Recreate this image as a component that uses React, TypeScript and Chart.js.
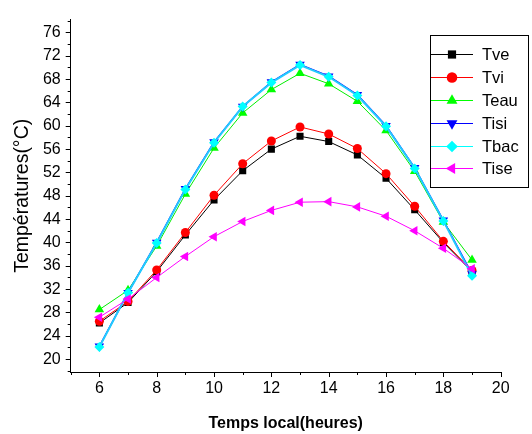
import React, { useEffect, useRef } from 'react';
import { Chart, registerables } from 'chart.js';
import { drawPoint } from 'chart.js/helpers';

Chart.register(...registerables);

const hours = [6, 7, 8, 9, 10, 11, 12, 13, 14, 15, 16, 17, 18, 19];
const tve = [26.2, 29.7, 35.0, 41.3, 47.3, 52.3, 56.0, 58.2, 57.3, 55.0, 51.0, 45.6, 40.0, 35.0];
const tvi = [26.5, 29.9, 35.3, 41.7, 48.1, 53.5, 57.4, 59.8, 58.6, 56.1, 51.8, 46.2, 40.2, 35.2];
const teau = [28.5, 31.8, 39.4, 48.3, 56.2, 62.2, 66.2, 69.0, 67.2, 64.2, 59.2, 52.2, 43.5, 37.0];
const tisi = [22.2, 31.4, 40.0, 49.2, 57.2, 63.3, 67.5, 70.5, 68.5, 65.3, 60.0, 52.8, 43.8, 34.6];
const tbac = [22.1, 31.4, 39.9, 49.1, 57.1, 63.3, 67.4, 70.4, 68.4, 65.2, 59.9, 52.7, 43.7, 34.3];
const tise = [27.2, 30.3, 34.0, 37.6, 41.0, 43.6, 45.5, 46.9, 47.0, 46.1, 44.5, 42.0, 39.0, 35.5];

const seriesNames = ['Tve', 'Tvi', 'Teau', 'Tisi', 'Tbac', 'Tise'];
const seriesValues = [tve, tvi, teau, tisi, tbac, tise];
const seriesColors = ['#000000', '#ff0000', '#00ff00', '#0000ff', '#00ffff', '#ff00ff'];
const seriesLineColors = ['#000000', '#ff0000', '#00ee00', '#0000ff', '#22ccff', '#ff00ff'];
const seriesMarkers = ['rect', 'circle', 'triangle', 'triangle', 'rectRot', 'triangle'];
const seriesRotations = [0, 0, 0, 180, 0, 270];
const seriesRadii = [5, 4.5, 5.5, 5.5, 5, 5.5];
const seriesLineWidths = [1, 1, 1, 1.5, 2, 1];

const xLabelValues = [6, 8, 10, 12, 14, 16, 18, 20];
const yLabelValues = [20, 24, 28, 32, 36, 40, 44, 48, 52, 56, 60, 64, 68, 72, 76];

const FONT = '"Liberation Sans", Arial, sans-serif';

const ticksPlugin = {
  id: 'originTicks',
  afterDraw(chart: any) {
    const ctx = chart.ctx;
    const xs = chart.scales.x;
    const ys = chart.scales.y;
    ctx.save();
    ctx.strokeStyle = '#000';
    ctx.lineWidth = 1;
    ctx.beginPath();
    for (let v = 5; v <= 20; v++) {
      const px = Math.round(xs.getPixelForValue(v)) + 0.5;
      const len = xLabelValues.includes(v) ? 5 : 3;
      ctx.moveTo(px, ys.bottom);
      ctx.lineTo(px, ys.bottom + len);
    }
    for (let v = 18; v <= 78; v += 2) {
      const py = Math.round(ys.getPixelForValue(v)) + 0.5;
      const len = yLabelValues.includes(v) ? 5 : 3;
      ctx.moveTo(xs.left - len, py);
      ctx.lineTo(xs.left, py);
    }
    ctx.stroke();
    ctx.restore();
  },
};

const legendPlugin = {
  id: 'boxLegend',
  afterDraw(chart: any) {
    const ctx = chart.ctx;
    ctx.save();
    ctx.strokeStyle = '#000';
    ctx.lineWidth = 1;
    ctx.strokeRect(430.5, 35.5, 98, 152);
    ctx.font = '16.5px ' + FONT;
    ctx.textBaseline = 'middle';
    ctx.textAlign = 'left';
    const rows = [54, 77, 100, 123, 146, 168];
    chart.data.datasets.forEach((ds: any, i: number) => {
      const y = rows[i] + 0.5;
      ctx.strokeStyle = seriesColors[i];
      ctx.lineWidth = 1;
      ctx.beginPath();
      ctx.moveTo(431, y);
      ctx.lineTo(473, y);
      ctx.stroke();
      ctx.fillStyle = seriesColors[i];
      drawPoint(ctx, { pointStyle: ds.pointStyle, rotation: ds.pointRotation, radius: ds.pointRadius + 0.8, borderWidth: 0 }, 452, y);
      ctx.fillStyle = '#000';
      ctx.fillText(ds.label, 482, y + 1);
    });
    ctx.restore();
  },
};

export default function App() {
  const ref = useRef<HTMLCanvasElement>(null);
  useEffect(() => {
    if (!ref.current) return;
    const datasets = seriesNames.map((name, i) => ({
      label: name,
      data: hours.map((h, j) => ({ x: h, y: seriesValues[i][j] })),
      borderColor: seriesLineColors[i],
      backgroundColor: seriesColors[i],
      pointBackgroundColor: seriesColors[i],
      pointBorderColor: seriesColors[i],
      pointBorderWidth: 0,
      pointStyle: seriesMarkers[i],
      pointRotation: seriesRotations[i],
      pointRadius: seriesRadii[i],
      borderWidth: seriesLineWidths[i],
      tension: 0,
      fill: false,
      order: seriesNames.length - i,
    }));
    const chart = new Chart(ref.current, {
      type: 'line',
      data: { datasets },
      options: {
        animation: false,
        responsive: false,
        maintainAspectRatio: false,
        layout: { padding: { left: 0, right: 31.3, top: 8.4, bottom: 0 } },
        plugins: { legend: { display: false }, tooltip: { enabled: false } },
        scales: {
          x: {
            type: 'linear',
            min: 5,
            max: 20,
            ticks: {
              stepSize: 1,
              autoSkip: false,
              maxRotation: 0,
              color: '#000',
              font: { family: FONT, size: 16 },
              padding: 7,
              callback: (v: any) => (xLabelValues.includes(Number(v)) ? String(v) : ''),
            },
            grid: { display: false, drawTicks: false },
            border: { display: true, color: '#000', width: 1 },
            title: {
              display: true,
              text: 'Temps local(heures)',
              color: '#000',
              font: { family: FONT, size: 16, weight: 'bold' },
              padding: { top: 0, bottom: 1 },
            },
            afterFit: (s: any) => { s.height = 62; },
          },
          y: {
            type: 'linear',
            min: 17.8,
            max: 78.2,
            ticks: {
              stepSize: 2,
              autoSkip: false,
              color: '#000',
              font: { family: FONT, size: 16 },
              padding: 10,
              callback: (v: any) => (yLabelValues.includes(Number(v)) ? String(v) : ''),
            },
            grid: { display: false, drawTicks: false },
            border: { display: true, color: '#000', width: 1 },
            title: {
              display: true,
              text: 'Températures(°C)',
              color: '#000',
              font: { family: FONT, size: 19.5 },
              padding: { top: 11, bottom: 0 },
            },
            afterFit: (s: any) => { s.width = 70.7; },
          },
        },
      } as any,
      plugins: [ticksPlugin, legendPlugin],
    });
    return () => chart.destroy();
  }, []);
  return (
    <div style={{ position: 'fixed', left: 0, top: 0, width: 532, height: 434, background: '#fff' }}>
      <canvas ref={ref} width={532} height={434} style={{ width: 532, height: 434 }} />
    </div>
  );
}
